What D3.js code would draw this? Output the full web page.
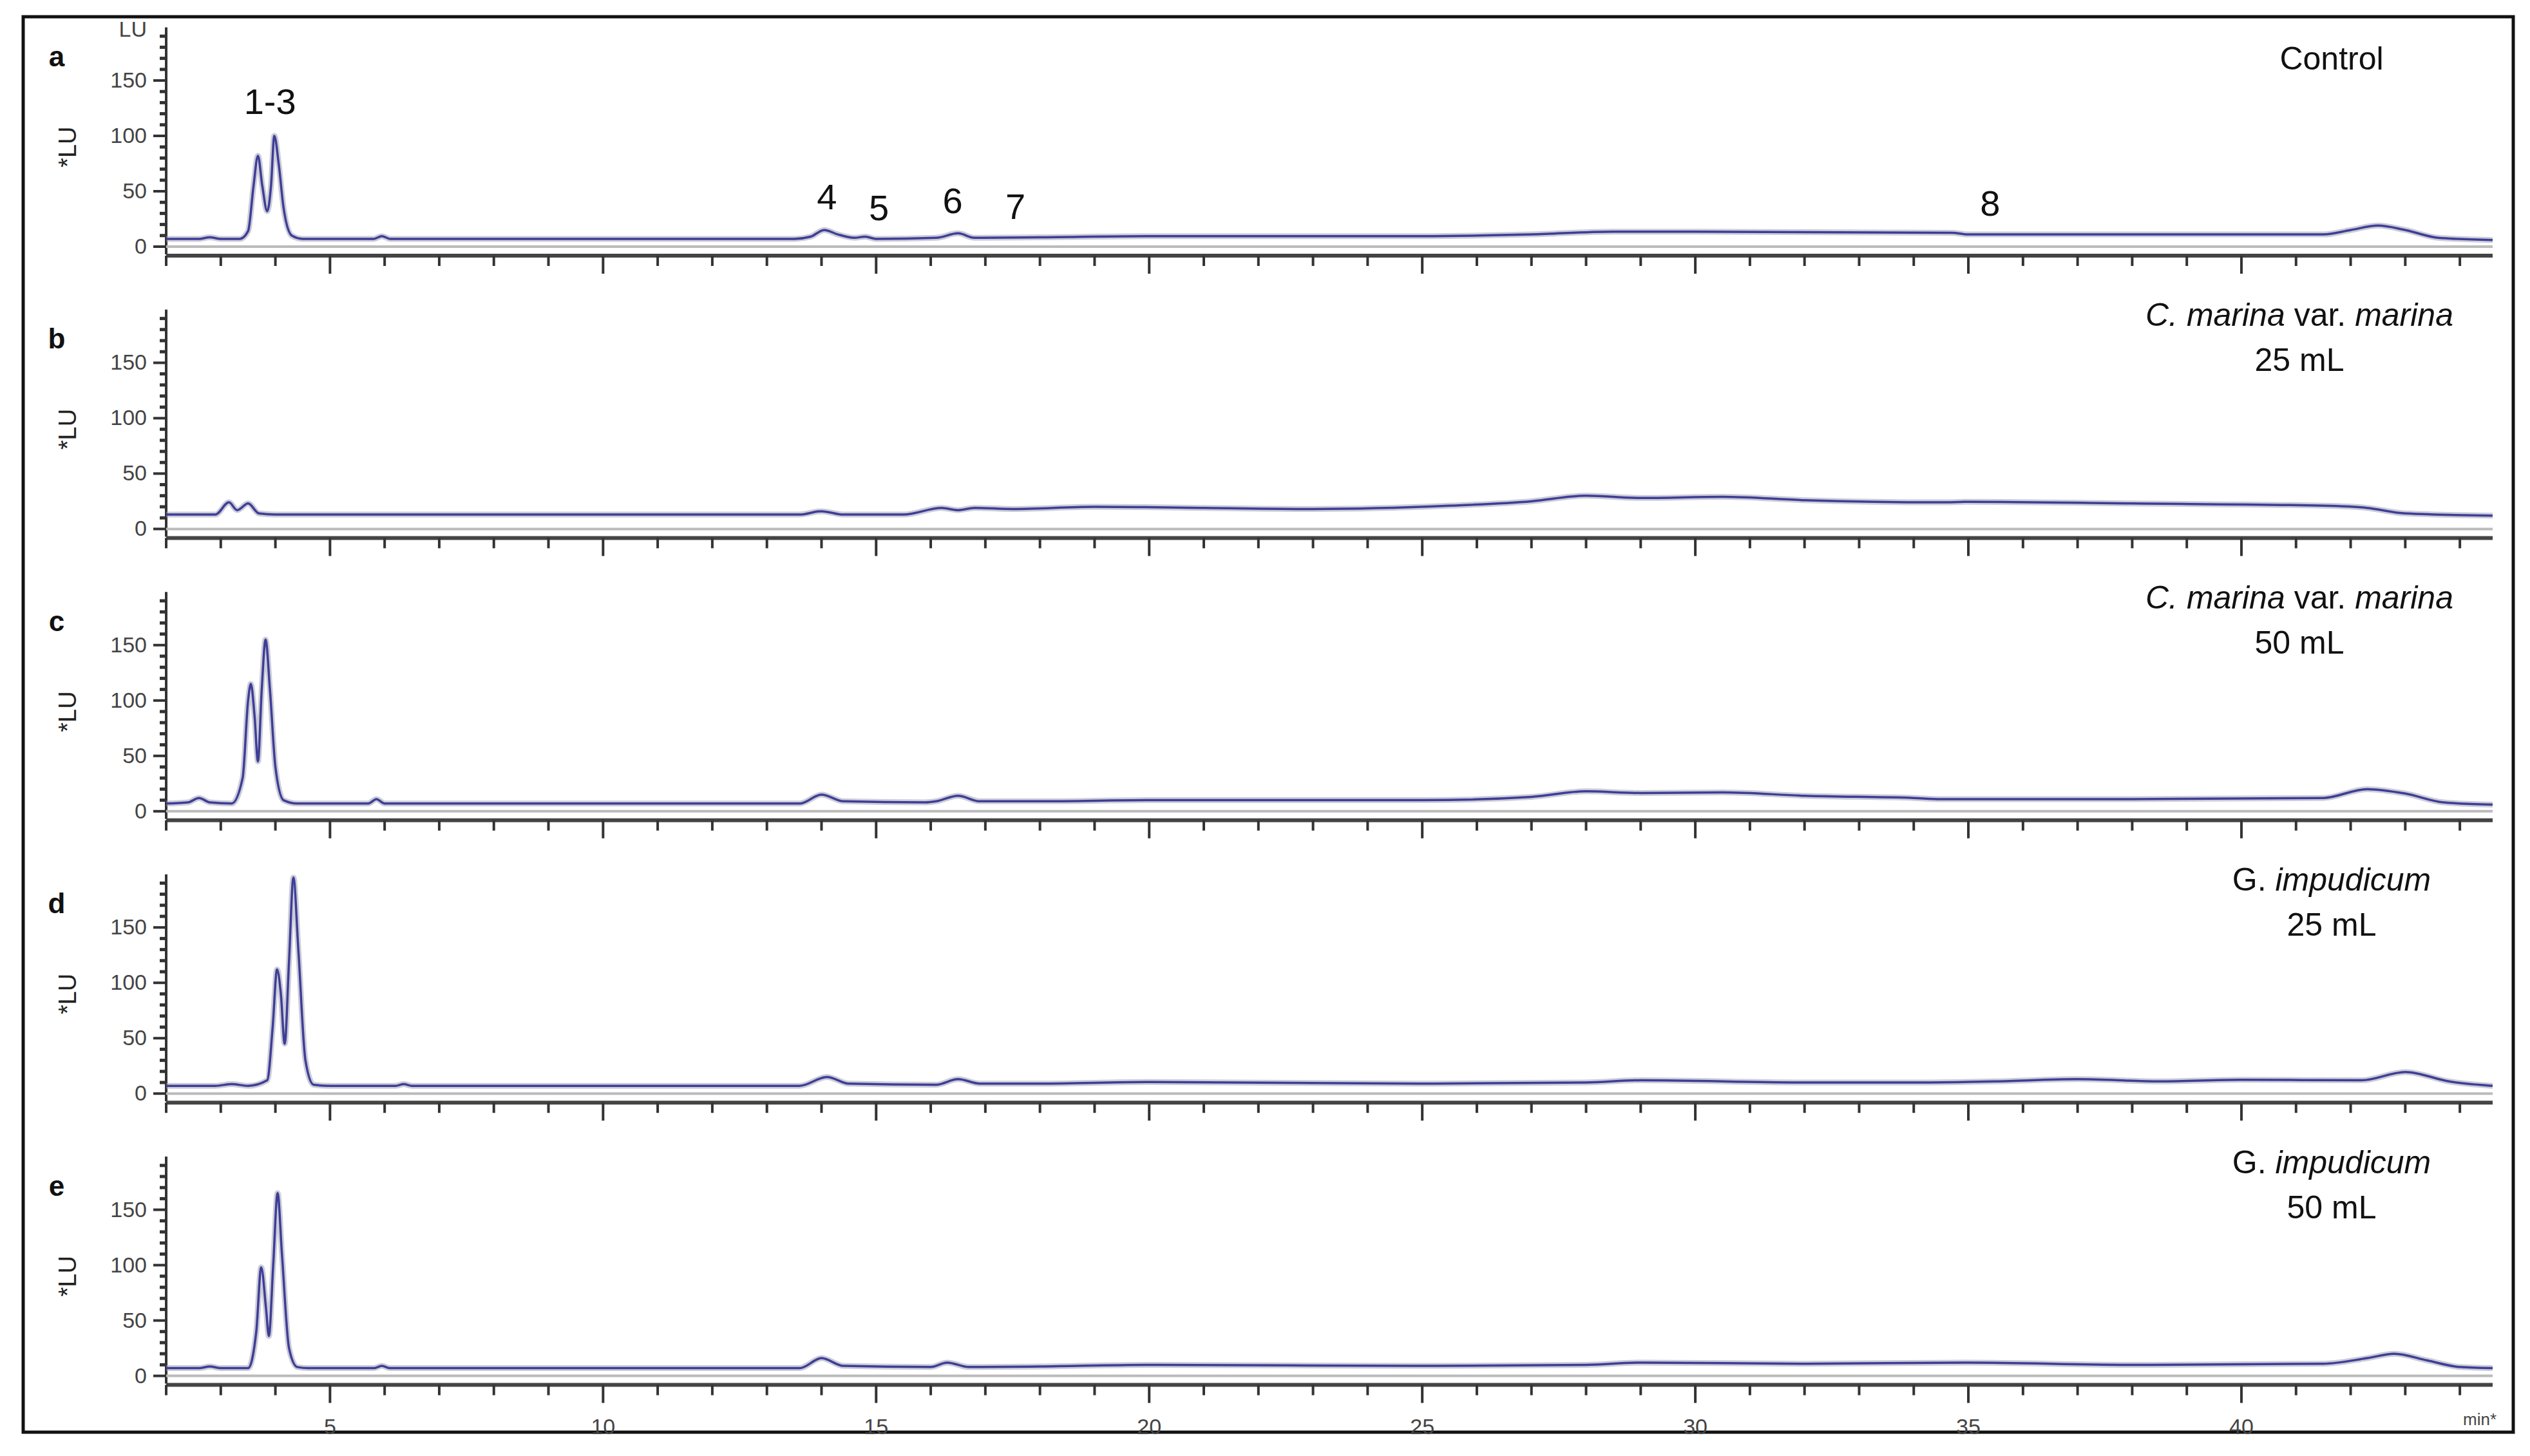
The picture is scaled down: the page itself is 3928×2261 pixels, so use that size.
<!DOCTYPE html>
<html><head><meta charset="utf-8">
<script src="https://cdn.jsdelivr.net/npm/d3@7"></script>
<style>body{margin:0;background:#fff}</style>
</head><body>
<svg id="chart" width="3928" height="2261"></svg>
<script>
// retention time (min) / signal (LU) points
const panel_letters = ['a', 'b', 'c', 'd', 'e'];
const panel_titles = [['Control'], ['C. marina var. marina', '25 mL'], ['C. marina var. marina', '50 mL'],
    ['G. impudicum', '25 mL'], ['G. impudicum', '50 mL']];
const series_a = [[2,7],[2.6,7],[2.8,8.5],[3.0,7],[3.35,7],[3.5,14],[3.6,55],[3.68,82],[3.76,55],[3.85,32],[3.92,55],[3.98,100],[4.06,75],[4.15,35],[4.3,10],[4.5,7],[5.8,7],[5.95,9.5],[6.1,7],[13.5,7],[13.8,9],[14.05,15],[14.3,11],[14.6,8],[14.8,9],[15.0,7],[16.1,8],[16.5,12],[16.8,8],[18,8.5],[20,9.5],[25,9.5],[27,11],[28.5,13.5],[30,13.5],[34.7,12.5],[35,11],[38,11],[41.5,11],[42.0,15],[42.5,19],[43.0,15],[43.6,8],[44.6,6]];
const series_b = [[2,13],[2.9,13],[3.15,24],[3.3,17],[3.5,23],[3.7,14],[4,13],[13.6,13],[14.0,16],[14.4,13],[15.5,13],[16.2,19],[16.5,17],[16.8,19],[17.5,18],[19,20],[21,19],[23,18],[25.5,21],[27,25],[28,30],[29,28],[30.5,29],[32,26],[34.5,24],[35,24.5],[38,23],[41.5,21],[42.3,19],[43,14],[44.6,12]];
const series_c = [[2,7],[2.4,8],[2.6,12],[2.8,8],[3.2,7],[3.4,30],[3.5,100],[3.55,115],[3.62,85],[3.68,45],[3.75,110],[3.82,155],[3.9,110],[4.0,40],[4.15,10],[4.4,7],[5.7,7],[5.85,11],[6.0,7],[13.6,7],[14.0,15],[14.4,9],[15.9,8],[16.1,9],[16.5,14],[16.9,9],[18,9],[20,10],[25,10],[27,13],[28,18],[29,16.5],[30.5,17],[32,14],[34,12],[34.5,11],[38,11],[41.5,12],[42.3,20],[43,16],[43.7,8],[44.6,6]];
const series_d = [[2,7],[2.9,7],[3.2,8.5],[3.5,7],[3.85,12],[3.95,60],[4.03,112],[4.1,90],[4.17,45],[4.25,120],[4.33,195],[4.42,130],[4.55,30],[4.7,8],[5,7],[6.2,7],[6.35,8.5],[6.5,7],[13.6,7],[14.1,15],[14.5,9],[16.1,8],[16.5,13],[16.9,9],[18,9],[20,10.5],[25,9],[28,10],[29,12],[32,10],[34,10],[35.5,11],[37,13],[38.5,11],[40,12.5],[42.2,12],[43,19.5],[43.8,11],[44.6,7]];
const series_e = [[2,7],[2.6,7],[2.8,8.5],[3.0,7],[3.5,7],[3.65,40],[3.74,98],[3.83,60],[3.88,36],[3.96,100],[4.04,165],[4.12,110],[4.25,25],[4.4,8],[4.6,7],[5.8,7],[5.95,9],[6.1,7],[13.6,7],[14.0,16],[14.4,9],[16.0,8],[16.3,12],[16.7,8],[18,8.5],[20,10],[25,9],[28,10],[29,12],[32,11],[35,12],[38,10],[41.5,11],[42.3,16],[42.8,20],[43.4,14],[44,8],[44.6,7]];
const all_series = [series_a, series_b, series_c, series_d, series_e];
const peak_labels = [['1-3', 3.9, 120], ['4', 14.1, 34], ['5', 15.05, 24], ['6', 16.4, 30], ['7', 17.55, 25], ['8', 35.4, 28]];
const x_ticks = [5, 10, 15, 20, 25, 30, 35, 40];
const y_ticks = [0, 50, 100, 150];

const font = '"Liberation Sans Narrow", "Liberation Sans", Arial, sans-serif';
const svg = d3.select('#chart');
svg.append('rect').attr('x', 36).attr('y', 26).attr('width', 3866).attr('height', 2198)
    .attr('fill', 'none').attr('stroke', '#111').attr('stroke-width', 5);

const x = d3.scaleLinear().domain([2, 44.6]).range([258, 3870]);
const panel_step = 438.4;

all_series.forEach(function (data, i) {
    const zero_y = 383 + i * panel_step;
    const y = d3.scaleLinear().domain([0, 150]).range([zero_y, zero_y - 258]);
    const g = svg.append('g');

    // y axis with minor ticks
    g.append('line').attr('x1', 258).attr('x2', 258).attr('y1', y(198)).attr('y2', zero_y + 12)
        .attr('stroke', '#333').attr('stroke-width', 4);
    d3.range(0, 200, 10).forEach(function (v) {
        const major = v % 50 === 0;
        g.append('line').attr('x1', major ? 238 : 248).attr('x2', 258).attr('y1', y(v)).attr('y2', y(v))
            .attr('stroke', '#333').attr('stroke-width', major ? 4 : 5);
    });
    g.selectAll('text.yt').data(y_ticks).join('text').attr('class', 'yt')
        .attr('x', 228).attr('y', function (d) { return y(d) + 11; })
        .attr('text-anchor', 'end').attr('font-family', font).attr('font-size', 34).attr('fill', '#444')
        .text(function (d) { return d; });
    if (i === 0) {
        g.append('text').attr('x', 228).attr('y', y(196) + 11)
            .attr('text-anchor', 'end').attr('font-family', font).attr('font-size', 34).attr('fill', '#444').text('LU');
    }
    g.append('text').attr('transform', 'translate(118,' + y(90) + ') rotate(-90)')
        .attr('text-anchor', 'middle').attr('font-family', font).attr('font-size', 38).attr('fill', '#222').text('*LU');

    // x axis: light baseline and darker axis line
    g.append('line').attr('x1', 258).attr('x2', 3870).attr('y1', zero_y).attr('y2', zero_y)
        .attr('stroke', '#bbb').attr('stroke-width', 4);
    const axis_y = zero_y + 14;
    g.append('line').attr('x1', 258).attr('x2', 3870).attr('y1', axis_y).attr('y2', axis_y)
        .attr('stroke', '#444').attr('stroke-width', 6);
    d3.range(2, 45, 1).forEach(function (v) {
        const major = v % 5 === 0;
        g.append('line').attr('x1', x(v)).attr('x2', x(v)).attr('y1', axis_y).attr('y2', axis_y + (major ? 28 : 16))
            .attr('stroke', '#333').attr('stroke-width', 4);
    });
    if (i === 4) {
        g.selectAll('text.xt').data(x_ticks).join('text').attr('class', 'xt')
            .attr('x', function (d) { return x(d); }).attr('y', axis_y + 76)
            .attr('text-anchor', 'middle').attr('font-family', font).attr('font-size', 34).attr('fill', '#444')
            .text(function (d) { return d; });
        g.append('text').attr('x', 3850).attr('y', axis_y + 62).attr('text-anchor', 'middle')
            .attr('font-family', font).attr('font-size', 26).attr('fill', '#444').text('min*');
    }

    // trace
    const line = d3.line().x(function (d) { return x(d[0]); }).y(function (d) { return y(d[1]); })
        .curve(d3.curveMonotoneX);
    g.append('path').datum(data).attr('d', line).attr('fill', 'none')
        .attr('stroke', '#9a9ab4').attr('stroke-width', 9).attr('stroke-opacity', 0.5);
    g.append('path').datum(data).attr('d', line).attr('fill', 'none')
        .attr('stroke', '#3e3e96').attr('stroke-width', 3.5);

    // panel letter and title
    g.append('text').attr('x', 88).attr('y', zero_y - 280).attr('text-anchor', 'middle')
        .attr('font-family', '"Liberation Sans", Arial, sans-serif').attr('font-weight', 'bold')
        .attr('font-size', 44).attr('fill', '#111').text(panel_letters[i]);
    const title = panel_titles[i];
    const cx = (i === 1 || i === 2) ? 3570 : 3620;
    if (title.length === 1) {
        g.append('text').attr('x', cx).attr('y', zero_y - 275).attr('text-anchor', 'middle')
            .attr('font-family', '"Liberation Sans", Arial, sans-serif').attr('font-size', 50).attr('fill', '#111').text(title[0]);
    } else {
        const t = g.append('text').attr('x', cx).attr('y', zero_y - 315).attr('text-anchor', 'middle')
            .attr('font-family', '"Liberation Sans", Arial, sans-serif').attr('font-size', 50).attr('fill', '#111');
        if (i <= 2) {
            t.append('tspan').attr('font-style', 'italic').text('C. marina');
            t.append('tspan').text(' var. ');
            t.append('tspan').attr('font-style', 'italic').text('marina');
        } else {
            t.append('tspan').text('G. ');
            t.append('tspan').attr('font-style', 'italic').text('impudicum');
        }
        g.append('text').attr('x', cx).attr('y', zero_y - 245).attr('text-anchor', 'middle')
            .attr('font-family', '"Liberation Sans", Arial, sans-serif').attr('font-size', 50).attr('fill', '#111').text(title[1]);
    }

    if (i === 0) {
        peak_labels.forEach(function (p) {
            g.append('text').attr('x', x(p[1])).attr('y', y(p[2]))
                .attr('text-anchor', 'middle')
                .attr('font-family', '"Liberation Sans Narrow", "Liberation Sans", Arial, sans-serif')
                .attr('font-size', 56).attr('fill', '#111').text(p[0]);
        });
    }
});
</script>
</body></html>
